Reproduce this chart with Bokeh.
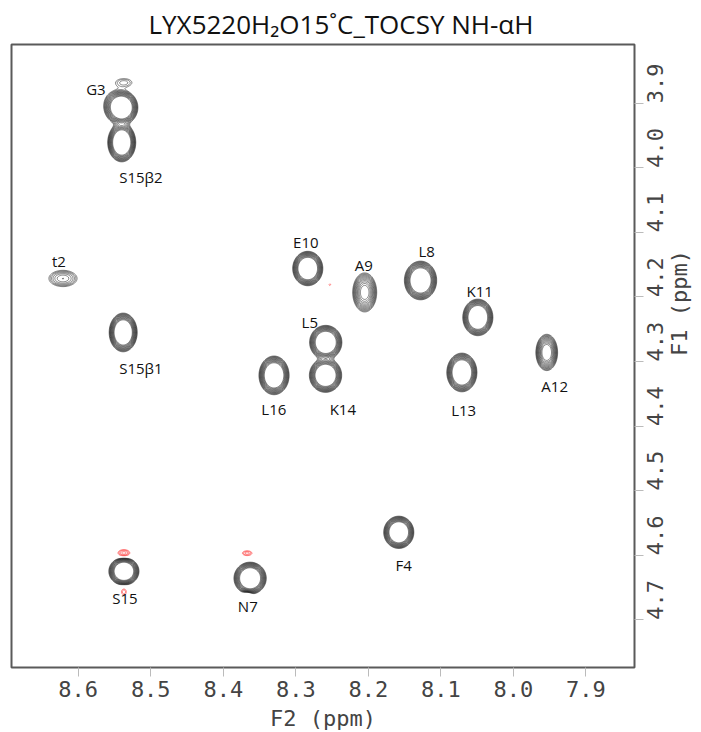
import math
import numpy as np
from bokeh.plotting import figure
from bokeh.models import Range1d, FixedTicker, PrintfTickFormatter
from bokeh.core.properties import value
from bokeh.embed import file_html
from bokeh.resources import INLINE

# ---- cross-peak list (ppm) ----
peak_f2 = [8.540, 8.540, 8.621, 8.538, 8.2835, 8.205, 8.128, 8.049, 7.954,
           8.2587, 8.259, 8.330, 8.071, 8.158, 8.537, 8.363,
           8.537, 8.552]
peak_f1 = [3.9067, 3.9608, 4.1714, 4.255, 4.156, 4.193, 4.1745, 4.2317, 4.286,
           4.2704, 4.3215, 4.3215, 4.317, 4.5646, 4.625, 4.6358,
           3.868, 3.902]
peak_wf2 = [0.00845, 0.00732, 0.0131, 0.00732, 0.00788, 0.0077, 0.00845, 0.00788, 0.0067,
            0.00845, 0.00845, 0.00788, 0.00788, 0.00788, 0.00788, 0.00845,
            0.0113, 0.0083]
peak_wf1 = [0.0101, 0.01138, 0.0085, 0.01138, 0.01012, 0.0141, 0.01138, 0.01075, 0.0126,
            0.0100, 0.0100, 0.01138, 0.01138, 0.00949, 0.00822, 0.00949,
            0.0064, 0.0124]
peak_amp = [1.6, 1.6, 0.15, 1.6, 1.6, 0.5, 1.6, 1.6, 0.6,
            1.6, 1.6, 1.6, 1.6, 1.6, 1.6, 1.6,
            0.08, 0.10]

# negative (red) peaks
neg_f2 = [8.537, 8.537, 8.367, 8.366, 8.253]
neg_f1 = [4.597, 4.6565, 4.597, 4.659, 4.181]
neg_wf2 = [0.0072, 0.0042, 0.0069, 0.0042, 0.0028]
neg_wf1 = [0.0048, 0.0062, 0.0039, 0.0031, 0.0031]
neg_amp = [-0.10, -0.07, -0.08, -0.06, -0.055]

# assignment labels (ppm)
lab_text = ["G3", "S15β2", "t2", "S15β1", "E10", "A9", "L8", "K11", "A12",
            "L5", "K14", "L16", "L13", "F4", "S15", "N7"]
lab_f2 = [8.5756, 8.5136, 8.6266, 8.5136, 8.2862, 8.2063, 8.1195, 8.0465, 7.9431,
          8.2807, 8.2352, 8.3303, 8.0685, 8.1512, 8.5356, 8.3662]
lab_f1 = [3.8772, 4.015, 4.145, 4.3107, 4.1156, 4.1512, 4.1296, 4.1915, 4.3386,
          4.2395, 4.3742, 4.3742, 4.3757, 4.6157, 4.6667, 4.6791]

f2_ticks = [8.6, 8.5, 8.4, 8.3, 8.2, 8.1, 8.0, 7.9]
f1_ticks = [3.9, 4.0, 4.1, 4.2, 4.3, 4.4, 4.5, 4.6, 4.7]

pos_levels = [0.05 * 1.2 ** i for i in range(12)]
neg_levels = sorted([-0.05 * 1.2 ** i for i in range(5)])

# ---- synthetic 2D spectrum from the peak list ----
xs = np.linspace(7.82, 8.70, 700)
ys = np.linspace(3.80, 4.78, 760)
X, Y = np.meshgrid(xs, ys)
Z = np.zeros_like(X)
for x0, y0, sx, sy, a in zip(peak_f2 + neg_f2, peak_f1 + neg_f1,
                             peak_wf2 + neg_wf2, peak_wf1 + neg_wf1,
                             peak_amp + neg_amp):
    Z += a * np.exp(-((X - x0) ** 2 / (2 * sx ** 2) + (Y - y0) ** 2 / (2 * sy ** 2)))

p = figure(frame_width=623, frame_height=623,
           x_range=Range1d(8.692, 7.833), y_range=Range1d(4.774, 3.809),
           y_axis_location="right", output_backend="svg", toolbar_location=None,
           min_border_left=11, min_border_right=67, min_border_top=42, min_border_bottom=67,
           title="LYX5220H\u2082O15\u02daC_TOCSY NH-\u03b1H")
p.grid.visible = False
p.outline_line_color = "#5a5a5a"
p.outline_line_width = 2
p.background_fill_color = "white"
p.border_fill_color = "white"

p.title.align = "left"
p.title.offset = 137
p.title.text_font = "Open Sans"
p.title.text_font_size = "26px"
p.title.text_font_style = "normal"
p.title.text_color = "#111111"
p.title.standoff = 6

p.contour(xs, ys, Z, levels=pos_levels, line_color="#151515", line_width=0.6,
          line_alpha=0.85, fill_color=None)
p.contour(xs, ys, Z, levels=neg_levels, line_color="#ff3030", line_width=0.6, fill_color=None)

p.text(x=lab_f2, y=lab_f1, text=lab_text, text_font=value("Open Sans"),
       text_font_size=value("15px"), text_align="center", text_baseline="middle",
       text_color="#111111")

for ax, ticks, lab in ((p.xaxis[0], f2_ticks, "F2 (ppm)"), (p.yaxis[0], f1_ticks, "F1 (ppm)")):
    ax.ticker = FixedTicker(ticks=ticks)
    ax.formatter = PrintfTickFormatter(format="%.1f")
    ax.major_tick_out = 9
    ax.major_tick_in = 0
    ax.minor_tick_out = 0
    ax.minor_tick_in = 0
    ax.major_tick_line_color = "#bbbbbb"
    ax.axis_line_color = None
    ax.major_label_text_font = "DejaVu Sans Mono"
    ax.major_label_text_font_size = "22px"
    ax.major_label_text_color = "#444444"
    ax.axis_label = lab
    ax.axis_label_text_font = "DejaVu Sans Mono"
    ax.axis_label_text_font_size = "22px"
    ax.axis_label_text_font_style = "normal"
    ax.axis_label_text_color = "#444444"

p.xaxis[0].major_label_standoff = 4
p.xaxis[0].axis_label_standoff = 6
p.yaxis[0].major_label_standoff = 12
p.yaxis[0].axis_label_standoff = 5
p.yaxis[0].major_label_orientation = math.pi / 2
try:
    p.yaxis[0].axis_label_orientation = math.pi / 2
except Exception:
    pass

open("out.html", "w").write(file_html(p, INLINE))
